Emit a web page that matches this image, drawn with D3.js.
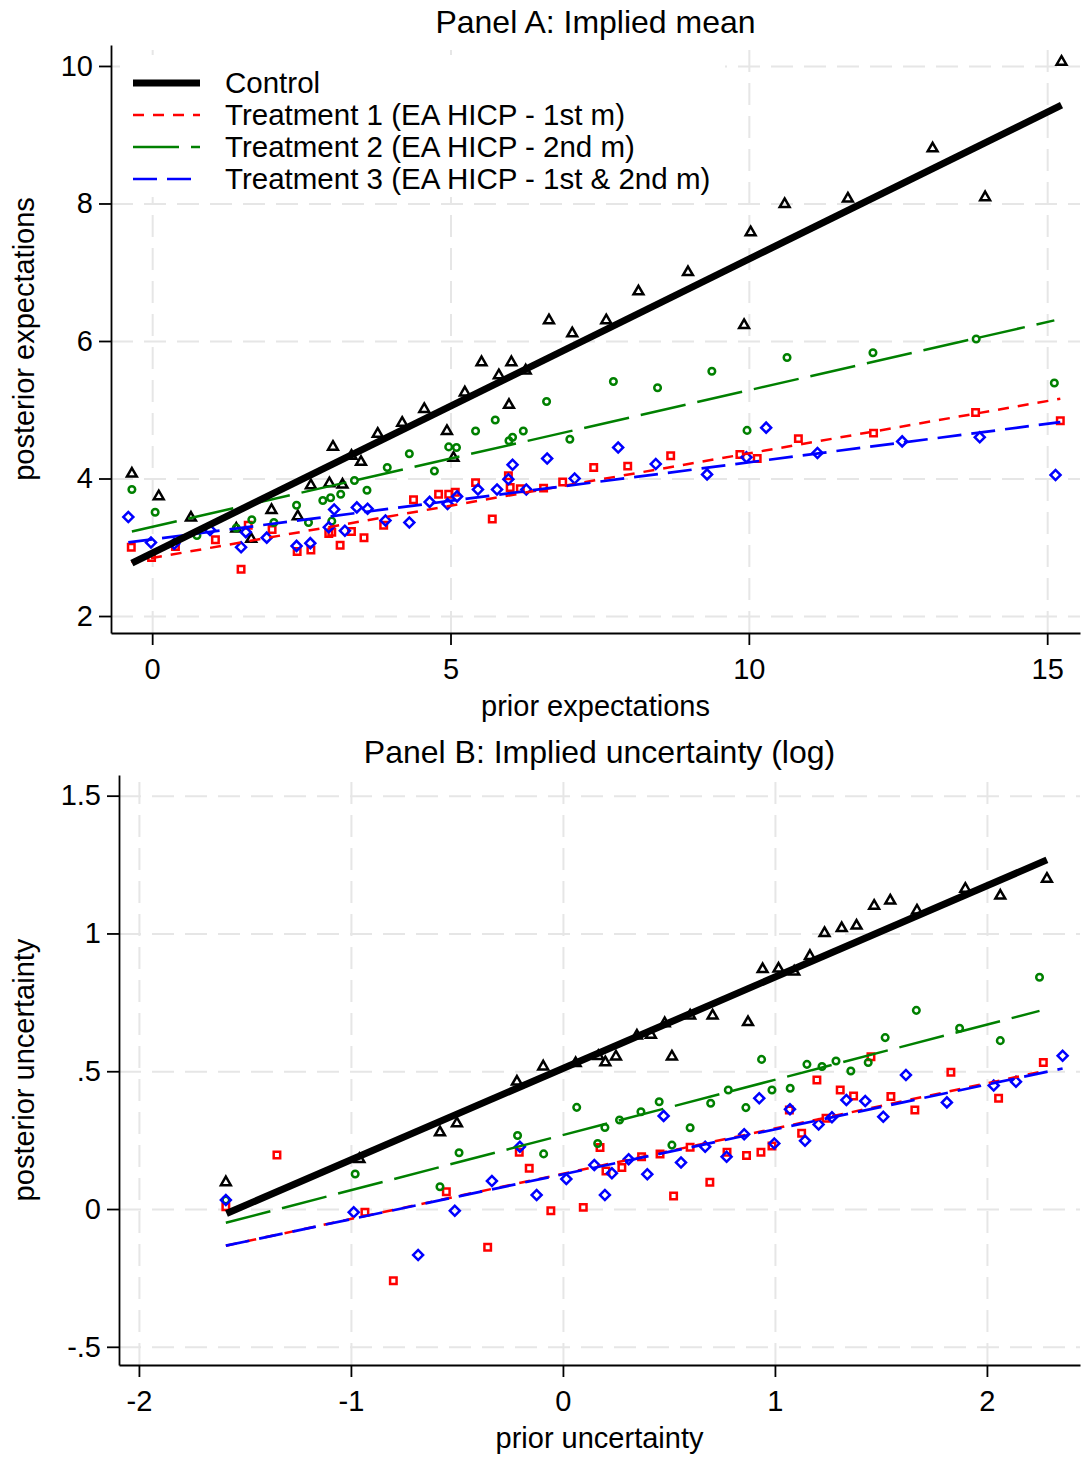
<!DOCTYPE html>
<html>
<head>
<meta charset="utf-8">
<script src="https://cdn.jsdelivr.net/npm/d3@7"></script>
<style>
  body { margin: 0; background: #fff; }
  text { font-family: "Liberation Sans", Arial, sans-serif; fill: #000; }
  .grid line { stroke: #e6e6e6; stroke-width: 2; stroke-dasharray: 22,11; }
  .grid path { display: none; }
  .axis path, .axis line { stroke: #000; stroke-width: 1.8; }
  .axis text { font-size: 29px; }
</style>
</head>
<body>
<div id="chart"></div>
<script>

// legend labels / series
var seriesNames = ["Control", "Treatment 1 (EA HICP - 1st m)", "Treatment 2 (EA HICP - 2nd m)", "Treatment 3 (EA HICP - 1st & 2nd m)"]

// Panel A: binned means [prior, posterior]
var ctrlA = [[-0.34,4.07],[0.11,3.74],[0.65,3.43],[1.41,3.27],[1.66,3.12],[2.00,3.54],[2.44,3.45],[2.66,3.90],[2.97,3.93],[3.03,4.46],[3.19,3.91],[3.34,4.33],[3.50,4.24],[3.78,4.65],[4.19,4.81],[4.56,5.01],[4.94,4.69],[5.05,4.30],[5.24,5.25],[5.52,5.69],[5.81,5.50],[5.98,5.07],[6.02,5.69],[6.26,5.57],[6.65,6.30],[7.04,6.11],[7.61,6.30],[8.15,6.72],[8.98,7.00],[9.92,6.23],[10.03,7.58],[10.60,7.99],[11.66,8.07],[13.08,8.80],[13.96,8.09],[15.24,10.06]]
var t1A = [[-0.35,3.00],[-0.01,2.85],[0.39,3.01],[1.06,3.11],[1.49,2.68],[1.61,3.32],[2.01,3.26],[2.43,2.94],[2.66,2.96],[2.96,3.20],[3.01,3.22],[3.15,3.03],[3.34,3.23],[3.55,3.14],[3.88,3.32],[4.38,3.69],[4.80,3.77],[4.97,3.77],[5.08,3.80],[5.42,3.94],[5.70,3.41],[5.97,4.04],[6.00,3.87],[6.17,3.85],[6.56,3.86],[6.88,3.95],[7.40,4.16],[7.97,4.18],[8.69,4.33],[9.85,4.35],[10.14,4.29],[10.83,4.58],[12.09,4.66],[13.80,4.96],[15.22,4.84]]
var t2A = [[-0.34,3.84],[0.05,3.51],[0.75,3.17],[1.41,3.28],[1.67,3.40],[2.04,3.36],[2.42,3.61],[2.62,3.36],[2.86,3.68],[2.99,3.72],[3.01,3.38],[3.16,3.77],[3.39,3.97],[3.60,3.83],[3.94,4.16],[4.31,4.36],[4.73,4.11],[4.97,4.46],[5.10,4.45],[5.42,4.69],[5.75,4.85],[5.98,4.55],[6.04,4.60],[6.22,4.69],[6.61,5.12],[7.00,4.57],[7.73,5.41],[8.47,5.32],[9.38,5.56],[9.97,4.70],[10.64,5.76],[12.08,5.83],[13.81,6.03],[15.12,5.39]]
var t3A = [[-0.40,3.44],[-0.02,3.07],[0.37,3.05],[0.97,3.25],[1.49,3.00],[1.57,3.22],[1.92,3.14],[2.42,3.02],[2.65,3.06],[2.96,3.29],[3.05,3.55],[3.23,3.24],[3.43,3.58],[3.61,3.56],[3.91,3.39],[4.31,3.36],[4.65,3.66],[4.95,3.63],[5.11,3.74],[5.46,3.84],[5.78,3.84],[5.97,3.99],[6.04,4.20],[6.27,3.84],[6.62,4.29],[7.08,4.00],[7.81,4.45],[8.44,4.21],[9.30,4.06],[9.96,4.31],[10.29,4.74],[11.15,4.37],[12.57,4.54],[13.87,4.60],[15.14,4.05]]
// Panel A: fitted lines, [start, end]
var fitA = [
	[[-0.34,2.77],[15.24,9.43]],
	[[-0.35,2.79],[15.22,5.16]],
	[[-0.34,3.23],[15.12,6.30]],
	[[-0.40,3.07],[15.22,4.82]]
]
var xTicksA = [0, 5, 10, 15]
var yTicksA = [2, 4, 6, 8, 10]
var xTickLabelsA = ["0", "5", "10", "15"]
var yTickLabelsA = ["2", "4", "6", "8", "10"]

// Panel B: binned means (log)
var ctrlB = [[-1.59,0.097],[-0.96,0.181],[-0.58,0.278],[-0.50,0.311],[-0.217,0.462],[-0.093,0.517],[0.06,0.529],[0.167,0.555],[0.20,0.532],[0.25,0.553],[0.349,0.629],[0.415,0.632],[0.48,0.674],[0.514,0.553],[0.60,0.702],[0.706,0.702],[0.873,0.678],[0.942,0.870],[1.017,0.872],[1.091,0.861],[1.165,0.918],[1.234,1.001],[1.315,1.019],[1.385,1.028],[1.468,1.100],[1.544,1.119],[1.670,1.083],[1.898,1.162],[2.063,1.137],[2.283,1.198]]
var t1B = [[-1.59,0.008],[-1.349,0.196],[-0.934,-0.012],[-0.80,-0.26],[-0.55,0.063],[-0.355,-0.139],[-0.206,0.206],[-0.159,0.148],[-0.057,-0.006],[0.096,0.006],[0.175,0.223],[0.203,0.138],[0.278,0.151],[0.371,0.190],[0.458,0.200],[0.522,0.047],[0.60,0.224],[0.693,0.097],[0.774,0.206],[0.866,0.194],[0.934,0.206],[0.986,0.229],[1.068,0.359],[1.126,0.275],[1.198,0.468],[1.241,0.329],[1.308,0.432],[1.371,0.410],[1.453,0.553],[1.547,0.408],[1.660,0.359],[1.830,0.496],[2.055,0.402],[2.266,0.532]]
var t2B = [[-1.59,0.033],[-0.98,0.127],[-0.58,0.081],[-0.49,0.204],[-0.214,0.267],[-0.091,0.200],[0.065,0.369],[0.164,0.238],[0.198,0.296],[0.267,0.323],[0.368,0.353],[0.454,0.389],[0.514,0.232],[0.60,0.295],[0.697,0.384],[0.78,0.432],[0.863,0.368],[0.937,0.543],[0.986,0.432],[1.072,0.438],[1.151,0.525],[1.222,0.517],[1.288,0.537],[1.358,0.501],[1.44,0.532],[1.52,0.622],[1.667,0.721],[1.871,0.656],[2.063,0.611],[2.248,0.841]]
var t3B = [[-1.59,0.033],[-0.987,-0.012],[-0.683,-0.167],[-0.51,-0.006],[-0.335,0.102],[-0.203,0.226],[-0.124,0.051],[0.016,0.109],[0.148,0.160],[0.198,0.051],[0.231,0.130],[0.31,0.181],[0.398,0.126],[0.475,0.338],[0.557,0.169],[0.671,0.226],[0.772,0.190],[0.855,0.271],[0.926,0.402],[0.997,0.238],[1.071,0.362],[1.142,0.248],[1.206,0.307],[1.269,0.333],[1.337,0.396],[1.426,0.392],[1.511,0.335],[1.618,0.486],[1.811,0.387],[2.032,0.448],[2.137,0.462],[2.357,0.556]]
var fitB = [
	[[-1.587,-0.016],[2.283,1.267]],
	[[-1.59,-0.133],[2.266,0.500]],
	[[-1.59,-0.050],[2.248,0.719]],
	[[-1.59,-0.133],[2.357,0.510]]
]
var xTicksB = [-2, -1, 0, 1, 2]
var yTicksB = [-0.5, 0, 0.5, 1, 1.5]
var xTickLabelsB = ["-2", "-1", "0", "1", "2"]
var yTickLabelsB = ["-.5", "0", ".5", "1", "1.5"]


var colors = ["#000000", "#ff0000", "#008000", "#0000ff"]
var dashes = [null, "11,9", "46,12", "24,10"]
var lineW  = [7, 2.5, 2.5, 2.7]

var svg = d3.select('#chart')
	.append('svg')
	.attr('width', 1081)
	.attr('height', 1458)


function marker(k){
	// hollow Stata-like markers: triangle, square, circle, diamond
	if (k == 0) return d3.symbol().type(d3.symbolTriangle).size(42)()
	if (k == 1) return d3.symbol().type(d3.symbolSquare).size(42)()
	if (k == 2) return d3.symbol().type(d3.symbolCircle).size(34)()
	return d3.symbol().type(d3.symbolSquare).size(50)()
}

function panel(p){

	var x = d3.scaleLinear().domain(p.xDomain).range([p.left, p.right])
	var y = d3.scaleLinear().domain(p.yDomain).range([p.bottom, p.top])

	var g = svg.append('g')

	// gridlines
	g.append('g')
	  .attr('class', 'grid')
	  .attr('transform', 'translate(0,' + p.bottom + ')')
	  .call(d3.axisBottom(x).tickValues(p.xTicks).tickSize(-(p.bottom - p.top)).tickFormat(''))

	g.append('g')
	  .attr('class', 'grid')
	  .attr('transform', 'translate(' + p.left + ',0)')
	  .call(d3.axisLeft(y).tickValues(p.yTicks).tickSize(-(p.right - p.left)).tickFormat(''))

	// legend box sits over the grid
	if (p.legend) {
		var lg = g.append('g')
		lg.append('rect')
		  .attr('x', p.left + 9).attr('y', 55)
		  .attr('width', 605).attr('height', 142)
		  .attr('fill', '#fff')
		p.series.forEach(function(s, k){
			var yy = 83 + k * 32
			lg.append('line')
			  .attr('x1', 133).attr('x2', 200)
			  .attr('y1', yy).attr('y2', yy)
			  .attr('stroke', colors[k])
			  .attr('stroke-width', lineW[k])
			  .attr('stroke-dasharray', dashes[k])
			lg.append('text')
			  .attr('x', 225).attr('y', yy + 10)
			  .style('font-size', '29.5px')
			  .text(seriesNames[k])
		})
	}

	// markers
	p.series.forEach(function(s, k){
		g.append('g').selectAll('path')
		  .data(s)
		  .enter().append('path')
		    .attr('d', marker(k))
		    .attr('transform', function(d){
		    	return 'translate(' + x(d[0]) + ',' + y(d[1]) + ')' + (k == 3 ? 'rotate(45)' : '')
		    })
		    .attr('fill', 'none')
		    .attr('stroke', colors[k])
		    .attr('stroke-width', 2.5)
	})

	// fitted lines, control drawn last
	var line = d3.line().x(function(d){ return x(d[0]) }).y(function(d){ return y(d[1]) })
	;[1, 2, 3, 0].forEach(function(k){
		g.append('path')
		  .attr('d', line(p.fits[k]))
		  .attr('fill', 'none')
		  .attr('stroke', colors[k])
		  .attr('stroke-width', lineW[k])
		  .attr('stroke-dasharray', dashes[k])
	})

	// axes
	g.append('g')
	  .attr('class', 'axis')
	  .attr('transform', 'translate(0,' + p.bottom + ')')
	  .call(d3.axisBottom(x).tickValues(p.xTicks).tickSize(12).tickSizeOuter(0).tickPadding(13)
	  	.tickFormat(function(d, i){ return p.xLabels[i] }))

	g.append('g')
	  .attr('class', 'axis')
	  .attr('transform', 'translate(' + p.left + ',0)')
	  .call(d3.axisLeft(y).tickValues(p.yTicks).tickSize(12).tickSizeOuter(0).tickPadding(6)
	  	.tickFormat(function(d, i){ return p.yLabels[i] }))

	g.selectAll('.axis text').style('font-size', '29px')

	// titles
	g.append('text')
	  .attr('text-anchor', 'middle')
	  .attr('x', (p.left + p.right) / 2).attr('y', p.top - 12)
	  .style('font-size', '32px')
	  .text(p.title)

	g.append('text')
	  .attr('text-anchor', 'middle')
	  .attr('x', (p.left + p.right) / 2).attr('y', p.bottom + 83)
	  .style('font-size', '29px')
	  .text(p.xTitle)

	g.append('text')
	  .attr('text-anchor', 'middle')
	  .attr('transform', 'translate(34,' + ((p.top + p.bottom) / 2) + ')rotate(-90)')
	  .style('font-size', '29px')
	  .text(p.yTitle)
}


panel({
	title: "Panel A: Implied mean", xTitle: "prior expectations", yTitle: "posterior expectations",
	left: 111, right: 1080, top: 45, bottom: 633,
	xDomain: [-0.69, 15.55], yDomain: [1.753, 10.305],
	xTicks: xTicksA, yTicks: yTicksA, xLabels: xTickLabelsA, yLabels: yTickLabelsA,
	series: [ctrlA, t1A, t2A, t3A], fits: fitA, legend: true
})

panel({
	title: "Panel B: Implied uncertainty (log)", xTitle: "prior uncertainty", yTitle: "posterior uncertainty",
	left: 119, right: 1080, top: 775, bottom: 1365,
	xDomain: [-2.094, 2.439], yDomain: [-0.566, 1.575],
	xTicks: xTicksB, yTicks: yTicksB, xLabels: xTickLabelsB, yLabels: yTickLabelsB,
	series: [ctrlB, t1B, t2B, t3B], fits: fitB, legend: false
})

</script>
</body>
</html>
